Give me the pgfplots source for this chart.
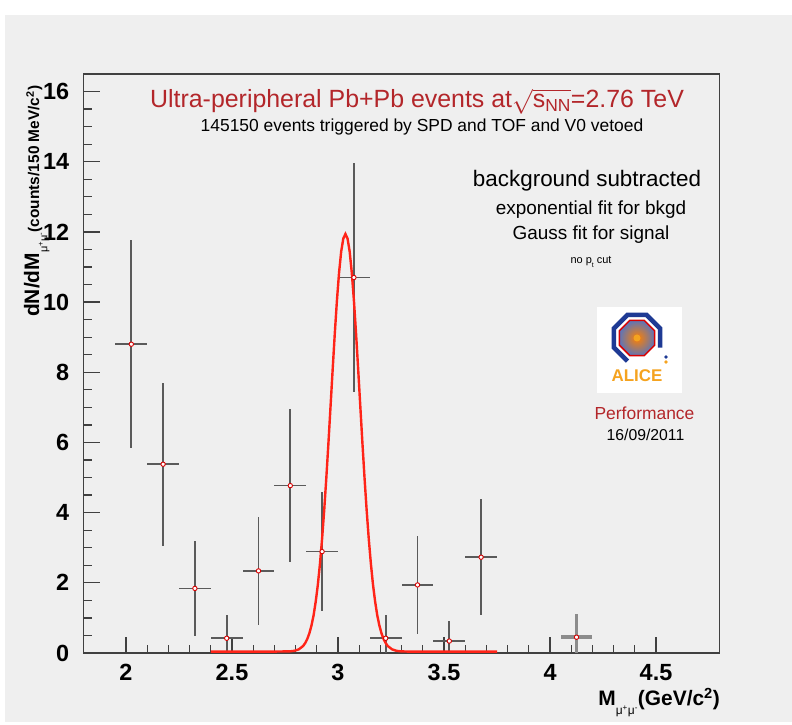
\documentclass[border=0pt]{standalone}
\usepackage{pgfplots}
\pgfplotsset{compat=1.18}
\usepackage{amsmath}
\usepackage{fontspec}
\setmainfont{Liberation Sans}
\definecolor{bg}{HTML}{EFEFEF}
\definecolor{titlered}{HTML}{B3262A}
\definecolor{fitred}{HTML}{FF2418}
\definecolor{errgray}{HTML}{5A5A5A}
\definecolor{axgray}{HTML}{404040}
\definecolor{aliceblue}{HTML}{1E3A94}
\definecolor{aliceorange}{HTML}{F5A31F}
\newcommand{\fs}[1]{\fontsize{#1}{#1}\selectfont}
\pgfplotstableread{
x y e
2.025 8.80 2.97
2.175 5.38 2.32
2.325 1.84 1.36
2.475 0.42 0.65
2.625 2.34 1.53
2.775 4.77 2.18
2.925 2.89 1.70
3.075 10.70 3.27
3.225 0.42 0.65
3.375 1.94 1.39
3.525 0.34 0.58
3.675 2.73 1.65
}\datatab
\pgfplotstableread{
x y e
4.125 0.45 0.67
}\lonetab
\pgfplotstableread{
x y
2.400 0.04
2.700 0.04
2.775 0.048
2.795 0.063
2.815 0.104
2.835 0.197
2.845 0.28
2.855 0.398
2.865 0.563
2.875 0.787
2.885 1.08
2.895 1.47
2.905 1.95
2.915 2.55
2.925 3.26
2.935 4.08
2.945 5.00
2.955 6.00
2.965 7.05
2.975 8.10
2.985 9.12
2.995 10.05
3.005 10.84
3.015 11.44
3.025 11.81
3.035 11.94
3.045 11.81
3.055 11.44
3.065 10.84
3.075 10.05
3.085 9.12
3.095 8.10
3.105 7.05
3.115 6.00
3.125 5.00
3.135 4.08
3.145 3.26
3.155 2.55
3.165 1.95
3.175 1.47
3.185 1.08
3.195 0.787
3.205 0.563
3.215 0.398
3.225 0.28
3.235 0.197
3.255 0.104
3.275 0.063
3.295 0.048
3.330 0.04
3.750 0.04
}\fittab
\begin{document}
\begin{tikzpicture}[x=1bp,y=1bp]
\useasboundingbox (0,0) rectangle (792,725);
\fill[white] (0,0) rectangle (792,725);
\fill[bg] (5,3) rectangle (792,710);
\begin{axis}[
  at={(83.6bp,72bp)}, anchor=south west,
  scale only axis, width=636bp, height=579bp,
  xmin=1.8, xmax=4.8, ymin=0, ymax=16.5,
  axis background/.style={fill=bg},
  axis line style={axgray, line width=1.4bp},
  tick pos=left, tick align=inside,
  major tick length=16bp, minor tick length=8bp,
  xtick={2,2.5,3,3.5,4,4.5}, ytick={0,2,4,6,8,10,12,14,16},
  minor x tick num=4, minor y tick num=3,
  every tick/.style={axgray, line width=1.3bp},
  /pgf/number format/assume math mode=true,
  xticklabel style={font=\fs{23.5}\bfseries, yshift=-8bp},
  yticklabel style={font=\fs{23.5}\bfseries, xshift=-11bp},
]
\addplot[only marks, mark=*, mark size=2.2bp,
  mark options={draw=red!85!black, fill=white, line width=0.9bp},
  error bars/.cd, x dir=both, x fixed=0.075, y dir=both, y explicit,
  error mark=none, error bar style={errgray, line width=1.7bp}]
  table[x=x, y=y, y error=e] {\datatab};
\addplot[only marks, mark=*, mark size=2.2bp,
  mark options={draw=red!85!black, fill=white, line width=0.9bp},
  error bars/.cd, x dir=both, x fixed=0.075, y dir=both, y explicit,
  error mark=none, error bar style={black!45, line width=3.5bp}]
  table[x=x, y=y, y error=e] {\lonetab};
\addplot[fitred, line width=2.4bp, no marks] table[x=x, y=y] {\fittab};
\end{axis}
% texts
\node[anchor=base, text=titlered, font=\fs{25}, inner sep=0] at (417,617)
  {Ultra-peripheral Pb+Pb events at$\sqrt{\text{s}_{\text{NN}}}$=2.76 TeV};
\node[anchor=base, font=\fs{17.5}, inner sep=0] at (422,593)
  {145150 events triggered by SPD and TOF and V0 vetoed};
\node[anchor=base, font=\fs{22.5}, inner sep=0] at (587,538) {background subtracted};
\node[anchor=base, font=\fs{19}, inner sep=0] at (591,510) {exponential fit for bkgd};
\node[anchor=base, font=\fs{19}, inner sep=0] at (591,485) {Gauss fit for signal};
\node[anchor=base, font=\fs{11}, inner sep=0] at (591,461) {no p\raisebox{-0.3em}{\fs{7}t} cut};
\node[anchor=base, text=titlered, font=\fs{17.5}, inner sep=0] at (644.5,305) {Performance};
\node[anchor=base, font=\fs{15.8}, inner sep=0] at (645.5,284) {16/09/2011};
% logo
\fill[white] (597,332) rectangle (682,418);
\begin{scope}[shift={(637,387)}]
  \shade[inner color=orange, outer color=aliceblue!70]
    (22.5:19) -- (67.5:19) -- (112.5:19) -- (157.5:19) -- (202.5:19) -- (247.5:19) -- (292.5:19) -- (337.5:19) -- cycle;
  \draw[aliceblue, line width=4.5bp]
    (-22.5:25) -- (22.5:25) -- (67.5:25) -- (112.5:25) -- (157.5:25) -- (202.5:25) -- (247.5:25);
  \draw[red!85!black, line width=1.5bp]
    (22.5:19) -- (67.5:19) -- (112.5:19) -- (157.5:19) -- (202.5:19) -- (247.5:19) -- (292.5:19) -- (337.5:19) -- cycle;
  \fill[aliceorange] (0,0) circle (3.5);
  \fill[aliceblue] (29,-19) circle (1.8);
  \fill[aliceorange] (29,-24) circle (1.8);
\end{scope}
\node[anchor=base, text=aliceorange, font=\fs{17}\bfseries, inner sep=0] at (637,343) {ALICE};
% axis labels
\node[anchor=base east, font=\fs{21}\bfseries, inner sep=0] at (720,19)
  {M\raisebox{-0.4em}{\fs{12}\mdseries μ\textsuperscript{+}μ\textsuperscript{-}}(GeV/c\textsuperscript{2})};
\node[anchor=base west, rotate=90, font=\fs{21}\bfseries, inner sep=0] at (39,408)
  {dN/dM\raisebox{-0.4em}{\fs{11}\mdseries μ\textsuperscript{+}μ\textsuperscript{-}}{\fs{15.5}(counts/150 MeV/c\textsuperscript{2})}};
\end{tikzpicture}
\end{document}
